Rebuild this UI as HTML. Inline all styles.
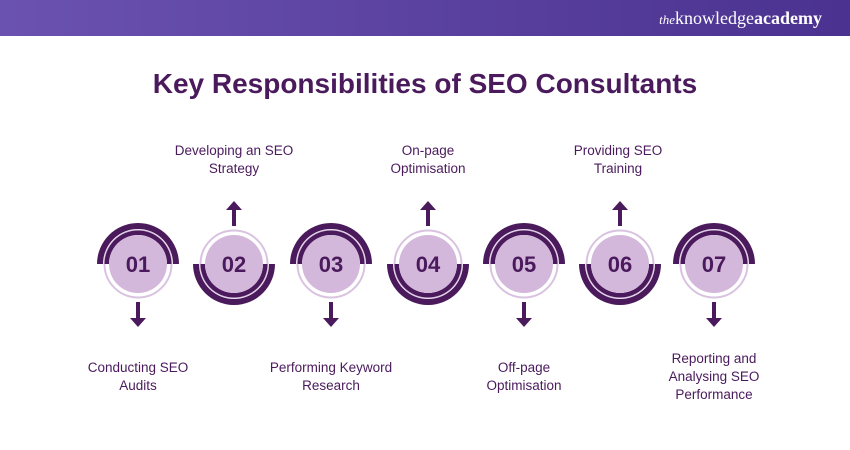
<!DOCTYPE html>
<html><head><style>
body{margin:0;width:850px;height:450px;background:#fff;overflow:hidden;font-family:"Liberation Sans",sans-serif;position:relative}
.bar{position:absolute;left:0;top:0;width:850px;height:36px;background:linear-gradient(90deg,#6b52b0,#4b3290)}
.logo{position:absolute;right:28px;top:8px;color:#fff;font-family:"Liberation Serif",serif;font-size:18px}
h1{position:absolute;top:68px;left:0;width:850px;text-align:center;margin:0;font-size:28px;color:#4a1a5c;font-weight:bold}
.l{position:absolute;width:160px;text-align:center;font-size:13.5px;color:#4a1a5c;line-height:18px}
</style></head><body>
<div class="bar"></div>
<div class="logo"><i style="font-size:13px">the</i>knowledge<b>academy</b></div>
<h1>Key Responsibilities of SEO Consultants</h1>
<svg width="850" height="450" style="position:absolute;left:0;top:0">
<defs>
<g id="up">
<circle r="33.5" fill="#fff" stroke="#d9c3e0" stroke-width="2"/>
<path d="M-41,0 A41,41 0 0 1 41,0 L35,0 A35,35 0 0 0 -35,0 Z" fill="#4a1a5c"/>
<path d="M-33.5,0 A33.5,33.5 0 0 1 33.5,0 L29,0 A29,29 0 0 0 -29,0 Z" fill="#4a1a5c"/>
<circle r="29" fill="#d4b8dc"/>
</g>
</defs>
<g font-family="Liberation Sans" font-weight="bold" font-size="22" fill="#4a1a5c" text-anchor="middle">
<g transform="translate(138,264)"><use href="#up"/><text y="8">01</text><path d="M0,38 V55" stroke="#4a1a5c" stroke-width="4"/><path d="M-8,54 L8,54 L0,63 Z" fill="#4a1a5c"/></g>
<g transform="translate(234,264)"><use href="#up" transform="rotate(180)"/><text y="8">02</text><path d="M0,-38 V-55" stroke="#4a1a5c" stroke-width="4"/><path d="M-8,-54 L8,-54 L0,-63 Z" fill="#4a1a5c"/></g>
<g transform="translate(331,264)"><use href="#up"/><text y="8">03</text><path d="M0,38 V55" stroke="#4a1a5c" stroke-width="4"/><path d="M-8,54 L8,54 L0,63 Z" fill="#4a1a5c"/></g>
<g transform="translate(428,264)"><use href="#up" transform="rotate(180)"/><text y="8">04</text><path d="M0,-38 V-55" stroke="#4a1a5c" stroke-width="4"/><path d="M-8,-54 L8,-54 L0,-63 Z" fill="#4a1a5c"/></g>
<g transform="translate(524,264)"><use href="#up"/><text y="8">05</text><path d="M0,38 V55" stroke="#4a1a5c" stroke-width="4"/><path d="M-8,54 L8,54 L0,63 Z" fill="#4a1a5c"/></g>
<g transform="translate(620,264)"><use href="#up" transform="rotate(180)"/><text y="8">06</text><path d="M0,-38 V-55" stroke="#4a1a5c" stroke-width="4"/><path d="M-8,-54 L8,-54 L0,-63 Z" fill="#4a1a5c"/></g>
<g transform="translate(714,264)"><use href="#up"/><text y="8">07</text><path d="M0,38 V55" stroke="#4a1a5c" stroke-width="4"/><path d="M-8,54 L8,54 L0,63 Z" fill="#4a1a5c"/></g>
</g>
</svg>
<div class="l" style="left:58px;top:359px">Conducting SEO<br>Audits</div>
<div class="l" style="left:154px;top:142px">Developing an SEO<br>Strategy</div>
<div class="l" style="left:251px;top:359px">Performing Keyword<br>Research</div>
<div class="l" style="left:348px;top:142px">On-page<br>Optimisation</div>
<div class="l" style="left:444px;top:359px">Off-page<br>Optimisation</div>
<div class="l" style="left:538px;top:142px">Providing SEO<br>Training</div>
<div class="l" style="left:634px;top:350px">Reporting and<br>Analysing SEO<br>Performance</div>
</body></html>
